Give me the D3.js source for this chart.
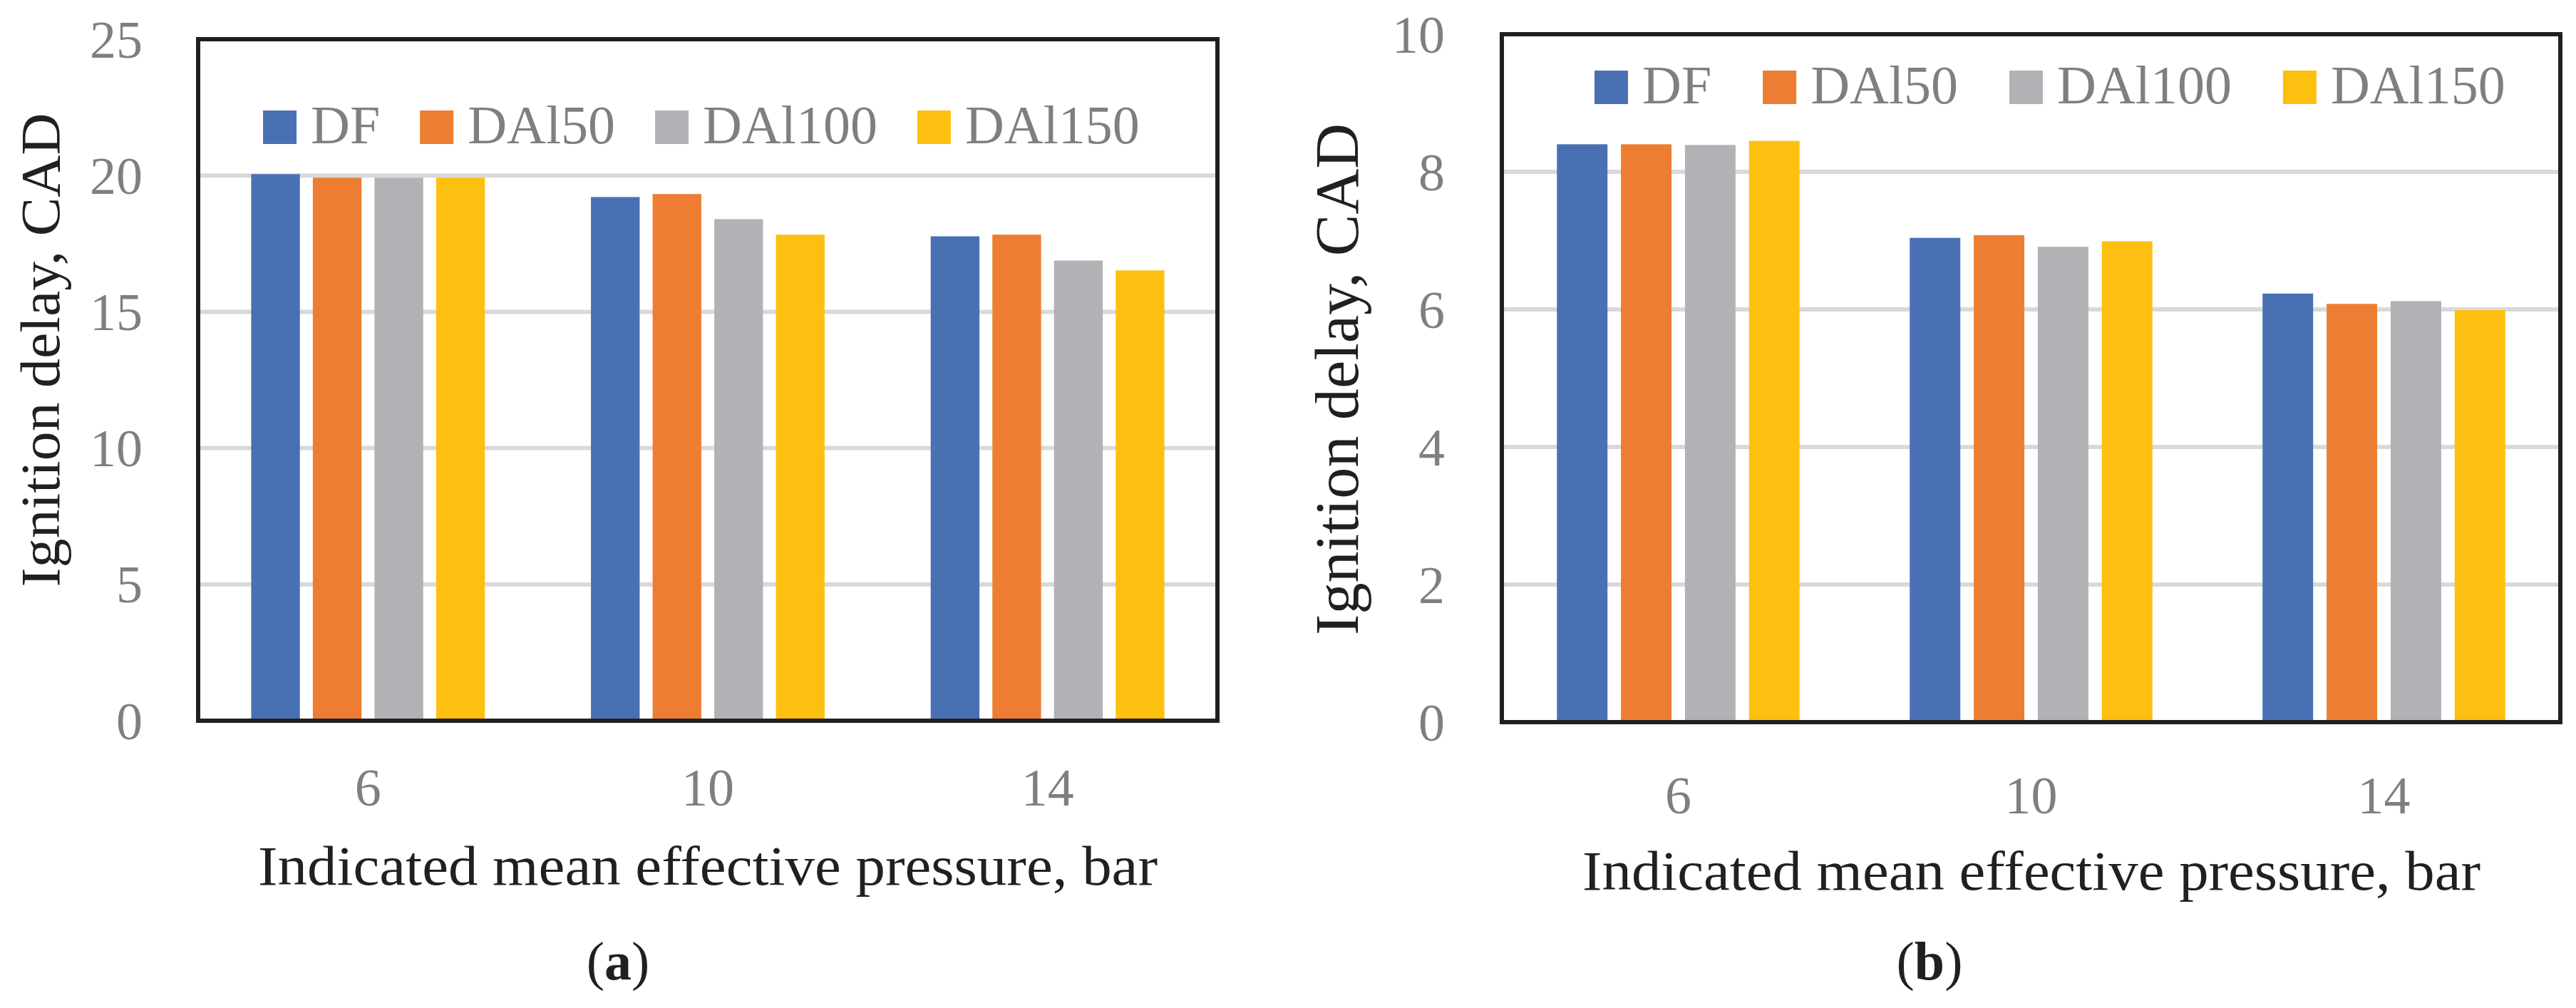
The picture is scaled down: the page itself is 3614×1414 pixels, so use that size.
<!DOCTYPE html>
<html>
<head>
<meta charset="utf-8">
<script src="https://cdn.jsdelivr.net/npm/d3@7"></script>
<style>
  html, body { margin: 0; padding: 0; background: #ffffff; }
  svg { display: block; }
  text { font-family: "Liberation Serif", "Times New Roman", serif; }
</style>
</head>
<body>
<svg id="chart" width="3614" height="1414"></svg>
<script>
// ---------- DATA ----------
const categories = ["6", "10", "14"];
const seriesNames = ["DF", "DAl50", "DAl100", "DAl150"];
const seriesColors = ["#4A70B4", "#ED7D33", "#B1B2B5", "#FDC010"];

// Panel (a): ignition delay, CAD
const dfA     = [20.05, 19.21, 17.77];
const dal50A  = [19.92, 19.32, 17.83];
const dal100A = [19.92, 18.40, 16.88];
const dal150A = [19.92, 17.83, 16.52];
const yTicksA = [0, 5, 10, 15, 20, 25];

// Panel (b): ignition delay, CAD
const dfB     = [8.40, 7.04, 6.23];
const dal50B  = [8.40, 7.08, 6.08];
const dal100B = [8.39, 6.91, 6.12];
const dal150B = [8.45, 6.99, 5.99];
const yTicksB = [0, 2, 4, 6, 8, 10];

const xTitle = "Indicated mean effective pressure, bar";
const yTitle = "Ignition delay, CAD";

// ---------- DRAW ----------
const svg = d3.select("#chart");
svg.append("rect").attr("width", 3614).attr("height", 1414).attr("fill", "#ffffff");

function drawPanel(series, yTicks, cfg) {
  const g = svg.append("g");
  const y = d3.scaleLinear().domain([0, d3.max(yTicks)]).range([cfg.bottom, cfg.top]);
  const x0 = d3.scaleBand().domain(categories).range([cfg.left, cfg.right]).padding(0);
  const x1 = d3.scaleBand().domain(seriesNames).range([0, x0.bandwidth()])
    .paddingInner(0.21).paddingOuter(0.86);

  // gridlines
  g.append("g").selectAll("line")
    .data(yTicks.filter(t => t > 0 && t < d3.max(yTicks)))
    .join("line")
    .attr("x1", cfg.left).attr("x2", cfg.right)
    .attr("y1", d => y(d)).attr("y2", d => y(d))
    .attr("stroke", "#D9D9D9").attr("stroke-width", 6);

  // bars
  const rows = categories.map((c, i) => ({ cat: c, vals: series.map((s, j) => ({ name: seriesNames[j], v: s[i], color: seriesColors[j] })) }));
  g.append("g").selectAll("g").data(rows).join("g")
    .attr("transform", d => `translate(${x0(d.cat)},0)`)
    .selectAll("rect").data(d => d.vals).join("rect")
    .attr("x", d => x1(d.name))
    .attr("width", x1.bandwidth())
    .attr("y", d => y(d.v))
    .attr("height", d => y(0) - y(d.v))
    .attr("fill", d => d.color);

  // frame
  g.append("rect")
    .attr("x", cfg.left).attr("y", cfg.top)
    .attr("width", cfg.right - cfg.left).attr("height", cfg.bottom - cfg.top)
    .attr("fill", "none").attr("stroke", "#231F20").attr("stroke-width", 6);

  // y axis labels
  const ya = g.append("g").attr("transform", `translate(${cfg.tickRight},0)`)
    .call(d3.axisLeft(y).tickValues(yTicks).tickSize(0).tickPadding(0).tickFormat(d3.format("d")));
  ya.select(".domain").remove();
  ya.selectAll("text").attr("font-size", cfg.tickSize).attr("fill", "#7F7F7F")
    .attr("font-family", "Liberation Serif").attr("dy", "0.34em");

  // x axis labels
  const xa = g.append("g").attr("transform", `translate(0,${cfg.xTickY})`)
    .call(d3.axisBottom(x0).tickSize(0).tickPadding(0));
  xa.select(".domain").remove();
  xa.selectAll("text").attr("font-size", cfg.tickSize).attr("fill", "#7F7F7F")
    .attr("font-family", "Liberation Serif").attr("dy", "0.68em");

  // axis titles
  g.append("text")
    .attr("x", cfg.xTitleX).attr("y", cfg.xTitleY)
    .attr("text-anchor", "middle").attr("font-size", cfg.xTitleSize)
    .attr("fill", "#231F20")
    .attr("textLength", cfg.xTitleLen).attr("lengthAdjust", "spacingAndGlyphs")
    .text(xTitle);

  g.append("text")
    .attr("transform", `translate(${cfg.yTitleX},${cfg.yTitleY}) rotate(-90)`)
    .attr("text-anchor", "middle").attr("font-size", cfg.yTitleSize)
    .attr("fill", "#231F20")
    .attr("textLength", cfg.yTitleLen).attr("lengthAdjust", "spacingAndGlyphs")
    .text(yTitle);

  // legend
  const lg = g.append("g");
  let lx = cfg.legX;
  seriesNames.forEach((name, j) => {
    lg.append("rect").attr("x", lx).attr("y", cfg.legY).attr("width", 47).attr("height", 47)
      .attr("fill", seriesColors[j]);
    const t = lg.append("text").attr("x", lx + 67).attr("y", cfg.legY + 46)
      .attr("font-size", 76).attr("fill", "#7F7F7F").text(name);
    const w = t.node().getComputedTextLength();
    lx += 67 + w + cfg.legGap;
  });

  // caption
  const cap = g.append("text").attr("x", cfg.capX).attr("y", cfg.capY)
    .attr("text-anchor", "middle").attr("font-size", 76).attr("fill", "#231F20");
  cap.append("tspan").text("(");
  cap.append("tspan").attr("font-weight", "bold").text(cfg.capLetter);
  cap.append("tspan").text(")");
}

drawPanel([dfA, dal50A, dal100A, dal150A], yTicksA, {
  left: 278, right: 1708, top: 55, bottom: 1011,
  tickRight: 200, tickSize: 74, xTickY: 1080,
  xTitleX: 993, xTitleY: 1241, xTitleLen: 1262, xTitleSize: 78,
  yTitleX: 83, yTitleY: 491, yTitleLen: 665, yTitleSize: 78,
  legX: 369, legY: 155, legGap: 56,
  capX: 867, capY: 1374, capLetter: "a"
});

drawPanel([dfB, dal50B, dal100B, dal150B], yTicksB, {
  left: 2107, right: 3592, top: 48, bottom: 1013,
  tickRight: 2027, tickSize: 74, xTickY: 1091,
  xTitleX: 2850, xTitleY: 1248, xTitleLen: 1260, xTitleSize: 78,
  yTitleX: 1905, yTitleY: 532, yTitleLen: 718, yTitleSize: 86,
  legX: 2237, legY: 99, legGap: 72,
  capX: 2707, capY: 1374, capLetter: "b"
});
</script>
</body>
</html>
